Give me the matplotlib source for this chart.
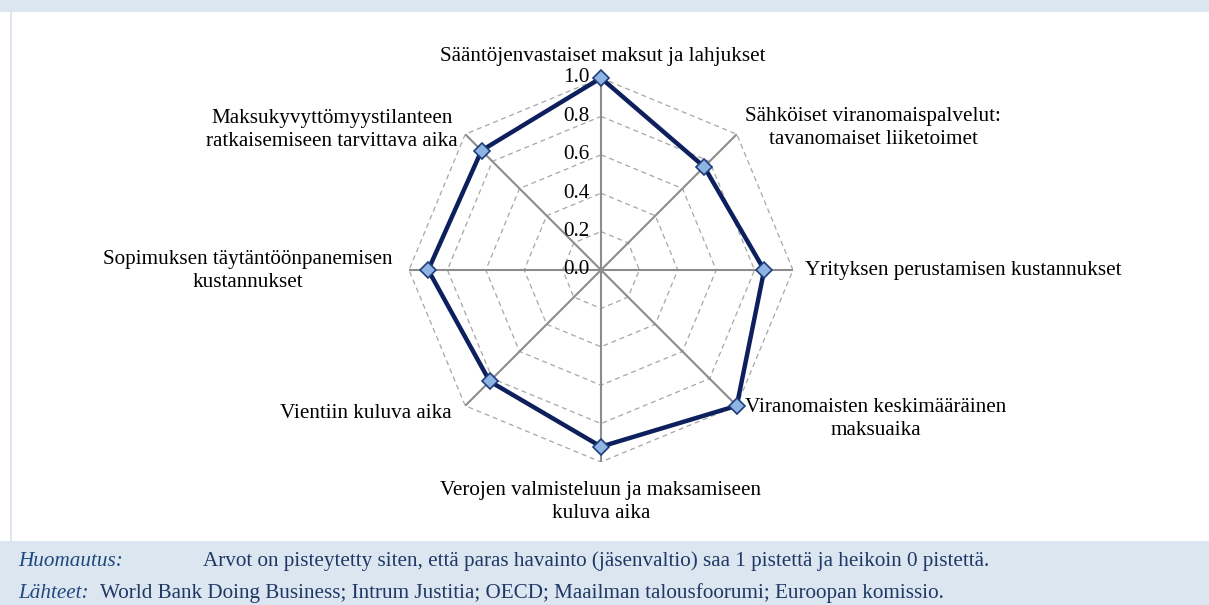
import numpy as np
import matplotlib.pyplot as plt
from matplotlib.patches import Rectangle

plt.rcParams['font.family'] = ['Liberation Serif', 'DejaVu Serif']

categories = [
    "Sääntöjenvastaiset maksut ja lahjukset",
    "Sähköiset viranomaispalvelut:\ntavanomaiset liiketoimet",
    "Yrityksen perustamisen kustannukset",
    "Viranomaisten keskimääräinen\nmaksuaika",
    "Verojen valmisteluun ja maksamiseen\nkuluva aika",
    "Vientiin kuluva aika",
    "Sopimuksen täytäntöönpanemisen\nkustannukset",
    "Maksukyvyttömyystilanteen\nratkaisemiseen tarvittava aika",
]
values = [1.0, 0.76, 0.85, 1.0, 0.92, 0.82, 0.90, 0.88]
rticks = [0.0, 0.2, 0.4, 0.6, 0.8, 1.0]
rtick_labels = ["0.0", "0.2", "0.4", "0.6", "0.8", "1.0"]

note_label = "Huomautus:"
note_text = "Arvot on pisteytetty siten, että paras havainto (jäsenvaltio) saa 1 pistettä ja heikoin 0 pistettä."
source_label = "Lähteet:"
source_text = "World Bank Doing Business; Intrum Justitia; OECD; Maailman talousfoorumi; Euroopan komissio."

W, H = 1209, 605
FS = 15.2
fig = plt.figure(figsize=(W / 100, H / 100), dpi=100, facecolor='white')

band = '#dce6f1'
# top band, bottom note band, left border
fig.patches.append(Rectangle((0, 1 - 12 / H), 1, 12 / H, transform=fig.transFigure,
                             facecolor=band, edgecolor='none', zorder=0))
fig.patches.append(Rectangle((0, 0), 1, 64 / H, transform=fig.transFigure,
                             facecolor=band, edgecolor='none', zorder=0))
fig.patches.append(Rectangle((10 / W, 64 / H), 1.5 / W, (H - 76) / H, transform=fig.transFigure,
                             facecolor=band, edgecolor='none', zorder=0))

# polar axes centred at (601, 270) px, radius 192 px
cx, cy, R = 601, 270, 192
ax = fig.add_axes([(cx - R) / W, (H - cy - R) / H, 2 * R / W, 2 * R / H], projection='polar')
ax.set_theta_zero_location('N')
ax.set_theta_direction(-1)
ax.set_ylim(0, 1)
ax.grid(False)
ax.spines['polar'].set_visible(False)
ax.set_xticks([])
ax.set_yticks([])
ax.patch.set_alpha(0)

n = len(categories)
theta = np.arange(n) * 2 * np.pi / n
theta_c = np.append(theta, theta[0])

# octagonal dashed gridlines
for r in rticks[1:]:
    ax.plot(theta_c, [r] * (n + 1), color='#a6a6a6', lw=0.9, ls=(0, (4, 3)), zorder=1)
# radial axes
for t in theta:
    ax.plot([t, t], [0, 1], color='#8c8c8c', lw=1.5, zorder=2)

# series
vals_c = np.append(values, values[0])
ax.plot(theta_c, vals_c, color='#0d1f5c', lw=3.2, zorder=3, clip_on=False)
ax.plot(theta, values, ls='none', marker='D', ms=8, mfc='#8db4e2', mec='#1f3d7a',
        mew=1.2, zorder=4, clip_on=False)

# radial tick labels
for r, lab in zip(rticks, rtick_labels):
    ax.annotate(lab, (0, r), xytext=(-8, 0), textcoords='offset points',
                ha='right', va='center', fontsize=FS, color='black', annotation_clip=False)

# category labels, centres in pixels
label_xy = [
    (603, 57, 'center'), (873, 128, 'center'), (805, 270, 'left'), (876, 419, 'center'),
    (601, 502, 'center'), (452, 413, 'right'), (248, 271, 'center'), (332, 130, 'center'),
]
for cat, (px, py, ha) in zip(categories, label_xy):
    fig.text(px / W, 1 - py / H, cat, ha=ha, va='center', fontsize=FS, color='black',
             linespacing=1.3, multialignment='center')

# notes
lab_col = '#1f497d'
txt_col = '#1f3864'
fig.text(18 / W, 1 - 561 / H, note_label, style='italic', color=lab_col, fontsize=FS, va='center')
fig.text(203 / W, 1 - 561 / H, note_text, color=txt_col, fontsize=FS, va='center')
fig.text(18 / W, 1 - 593 / H, source_label, style='italic', color=lab_col, fontsize=FS, va='center')
fig.text(100 / W, 1 - 593 / H, source_text, color=txt_col, fontsize=FS, va='center')

fig.savefig('out.png', dpi=100, facecolor='white')
